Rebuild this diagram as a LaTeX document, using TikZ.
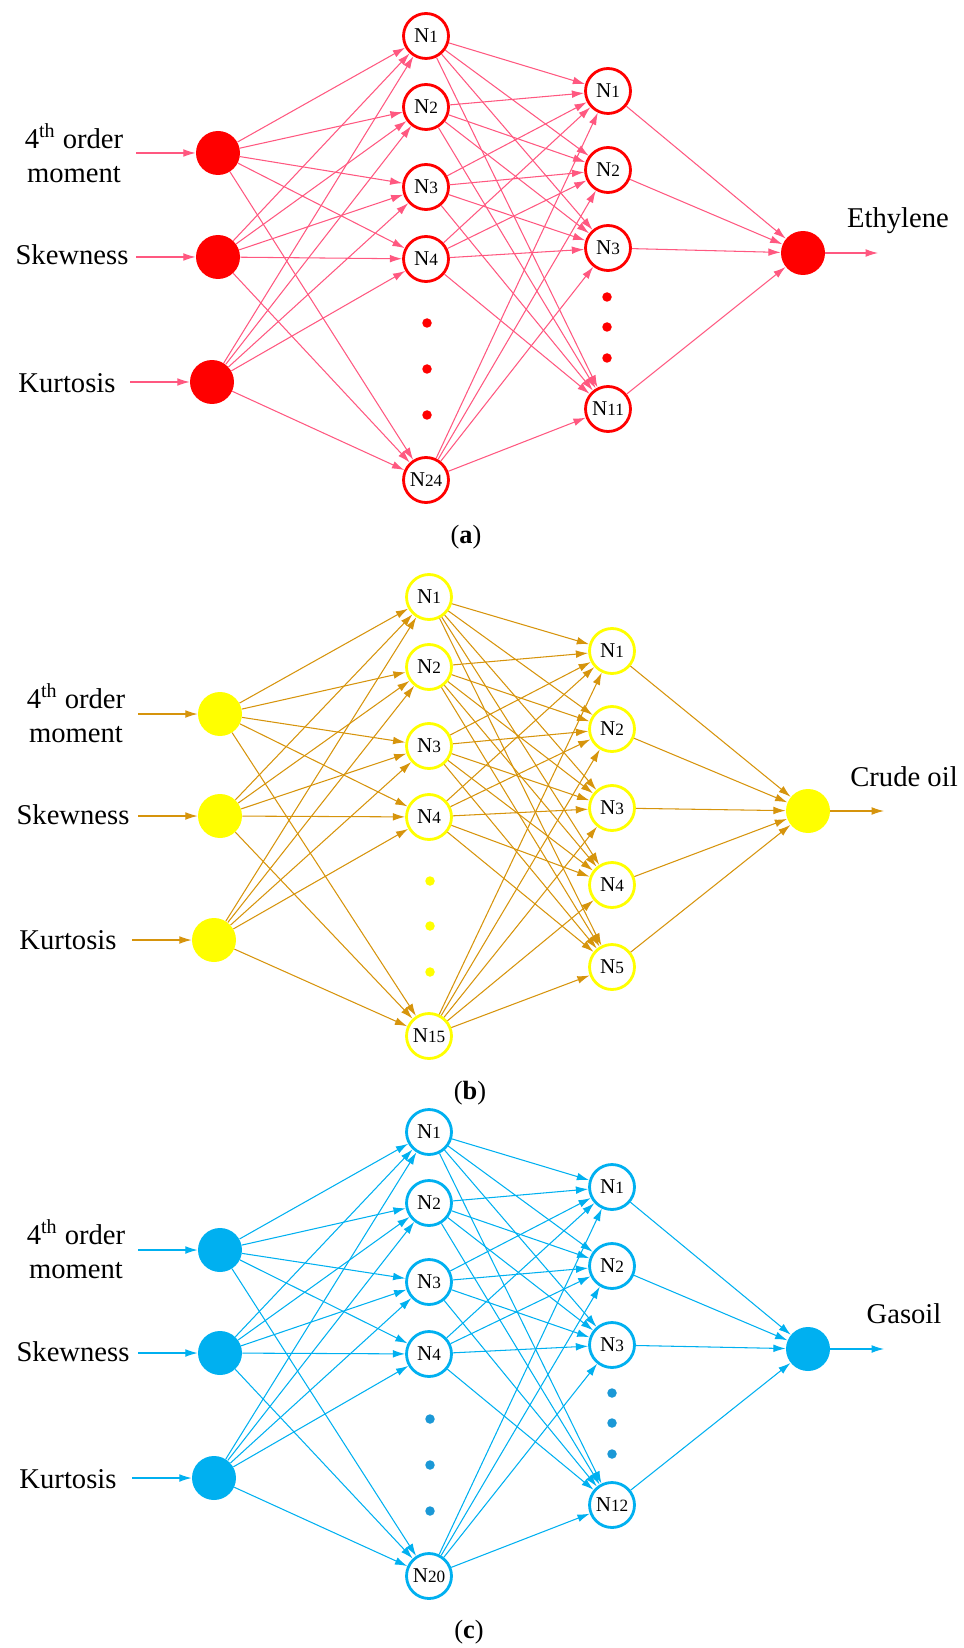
\documentclass[tikz,border=0pt]{standalone}
\usepackage{fontspec}
\setmainfont{Liberation Serif}
\usetikzlibrary{arrows.meta}
\definecolor{linkred}{RGB}{255,88,128}
\definecolor{nodered}{RGB}{255,0,0}
\definecolor{linkgold}{RGB}{214,148,12}
\definecolor{nodeyellow}{RGB}{255,255,0}
\definecolor{linkblue}{RGB}{0,176,240}
\definecolor{dotblue}{RGB}{27,152,214}
\tikzset{
	inputnode/.style={circle,minimum size=0.88cm,inner sep=0pt},%
	hiddennode/.style={circle,draw,line width=1.6pt,fill=white,minimum size=0.9cm,inner sep=0pt,font=\fontsize{12}{12}\selectfont},%
	link/.style={-{Latex[length=7pt,width=4.4pt]},line width=0.6pt},%
	feature/.style={font=\fontsize{16.3}{19.3}\selectfont,align=center,inner sep=0pt},%
	panelcap/.style={font=\fontsize{15}{16}\selectfont,inner sep=0pt,anchor=base},%
}
\newcommand{\neuron}[1]{N{\fontsize{9.8}{10}\selectfont #1}}

\begin{document}
\begin{tikzpicture}[%
		x=0.02cm,y=-0.02cm,%
		]
		\useasboundingbox (0,0) rectangle (963,1648);
		% (a) ethylene
		\node[inputnode,fill=nodered] (a-in1) at (218,153) {};
		\node[inputnode,fill=nodered] (a-in2) at (218,257) {};
		\node[inputnode,fill=nodered] (a-in3) at (212,382) {};
		\node[feature] (a-t1) at (74,153) {4\textsuperscript{th} order\\moment};
		\node[feature,anchor=base] (a-t2) at (72,265) {Skewness};
		\node[feature,anchor=base] (a-t3) at (67,393) {Kurtosis};
		\coordinate (a-s1) at (136,153);
		\coordinate (a-s2) at (136,257);
		\coordinate (a-s3) at (130,382);
		\foreach \n/\y/\t in {1/36/1,2/107/2,3/187/3,4/259/4,5/480/24}
			\node[hiddennode,draw=nodered] (a-h\n) at (426,\y) {\neuron{\t}};
		\foreach \y in {323,369,415} \fill[nodered] (427,\y) circle (0.095cm);
		\foreach \n/\y/\t in {1/91/1,2/170/2,3/248/3,4/409/11}
			\node[hiddennode,draw=nodered] (a-o\n) at (608,\y) {\neuron{\t}};
		\foreach \y in {297,327,358} \fill[nodered] (607,\y) circle (0.095cm);
		\node[inputnode,fill=nodered] (a-out) at (803,253) {};
		\coordinate (a-end) at (878,253);
		\node[feature,anchor=base] (a-name) at (898,228) {Ethylene};
		\node[panelcap] (a-cap) at (466,543) {(\textbf{a})};
		\foreach \i in {1,2,3} {
			\draw[link,linkred] (a-s\i) -- (a-in\i);
			\foreach \j in {1,...,5} \draw[link,linkred] (a-in\i) -- (a-h\j);
		}
		\foreach \i in {1,...,5} \foreach \j in {1,...,4} \draw[link,linkred] (a-h\i) -- (a-o\j);
		\foreach \j in {1,...,4} \draw[link,linkred] (a-o\j) -- (a-out);
		\draw[link,linkred] (a-out) -- (a-end);
		% (b) crude oil
		\node[inputnode,fill=nodeyellow] (b-in1) at (220,714) {};
		\node[inputnode,fill=nodeyellow] (b-in2) at (220,816) {};
		\node[inputnode,fill=nodeyellow] (b-in3) at (214,940) {};
		\node[feature] (b-t1) at (76,713) {4\textsuperscript{th} order\\moment};
		\node[feature,anchor=base] (b-t2) at (73,824) {Skewness};
		\node[feature,anchor=base] (b-t3) at (68,949) {Kurtosis};
		\coordinate (b-s1) at (138,714);
		\coordinate (b-s2) at (138,816);
		\coordinate (b-s3) at (132,940);
		\foreach \n/\y/\t in {1/597/1,2/667/2,3/746/3,4/817/4,5/1036/15}
			\node[hiddennode,draw=nodeyellow] (b-h\n) at (429,\y) {\neuron{\t}};
		\foreach \y in {881,926,972} \fill[nodeyellow] (430,\y) circle (0.095cm);
		\foreach \n/\y in {1/651,2/729,3/808,4/885,5/967}
			\node[hiddennode,draw=nodeyellow] (b-o\n) at (612,\y) {\neuron{\n}};
		\node[inputnode,fill=nodeyellow] (b-out) at (808,811) {};
		\coordinate (b-end) at (884,811);
		\node[feature,anchor=base] (b-name) at (904,786) {Crude oil};
		\node[panelcap] (b-cap) at (470,1099) {(\textbf{b})};
		\foreach \i in {1,2,3} {
			\draw[link,linkgold] (b-s\i) -- (b-in\i);
			\foreach \j in {1,...,5} \draw[link,linkgold] (b-in\i) -- (b-h\j);
		}
		\foreach \i in {1,...,5} \foreach \j in {1,...,5} \draw[link,linkgold] (b-h\i) -- (b-o\j);
		\foreach \j in {1,...,5} \draw[link,linkgold] (b-o\j) -- (b-out);
		\draw[link,linkgold] (b-out) -- (b-end);
		% (c) gasoil
		\node[inputnode,fill=linkblue] (c-in1) at (220,1250) {};
		\node[inputnode,fill=linkblue] (c-in2) at (220,1353) {};
		\node[inputnode,fill=linkblue] (c-in3) at (214,1478) {};
		\node[feature] (c-t1) at (76,1249) {4\textsuperscript{th} order\\moment};
		\node[feature,anchor=base] (c-t2) at (73,1361) {Skewness};
		\node[feature,anchor=base] (c-t3) at (68,1488) {Kurtosis};
		\coordinate (c-s1) at (138,1250);
		\coordinate (c-s2) at (138,1353);
		\coordinate (c-s3) at (132,1478);
		\foreach \n/\y/\t in {1/1132/1,2/1203/2,3/1282/3,4/1354/4,5/1576/20}
			\node[hiddennode,draw=linkblue] (c-h\n) at (429,\y) {\neuron{\t}};
		\foreach \y in {1419,1465,1511} \fill[dotblue] (430,\y) circle (0.095cm);
		\foreach \n/\y/\t in {1/1187/1,2/1266/2,3/1345/3,4/1505/12}
			\node[hiddennode,draw=linkblue] (c-o\n) at (612,\y) {\neuron{\t}};
		\foreach \y in {1393,1423,1454} \fill[dotblue] (612,\y) circle (0.095cm);
		\node[inputnode,fill=linkblue] (c-out) at (808,1349) {};
		\coordinate (c-end) at (884,1349);
		\node[feature,anchor=base] (c-name) at (904,1323) {Gasoil};
		\node[panelcap] (c-cap) at (469,1638) {(\textbf{c})};
		\foreach \i in {1,2,3} {
			\draw[link,linkblue] (c-s\i) -- (c-in\i);
			\foreach \j in {1,...,5} \draw[link,linkblue] (c-in\i) -- (c-h\j);
		}
		\foreach \i in {1,...,5} \foreach \j in {1,...,4} \draw[link,linkblue] (c-h\i) -- (c-o\j);
		\foreach \j in {1,...,4} \draw[link,linkblue] (c-o\j) -- (c-out);
		\draw[link,linkblue] (c-out) -- (c-end);
	\end{tikzpicture}
\end{document}
